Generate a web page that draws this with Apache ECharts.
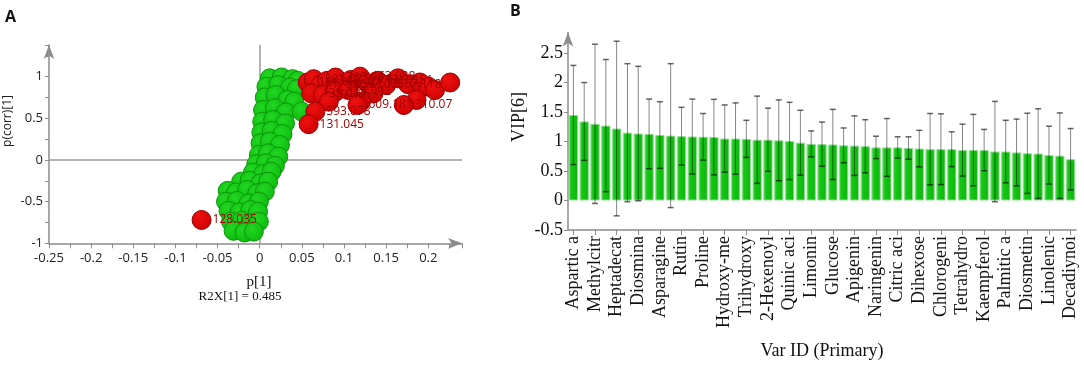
<!DOCTYPE html>
<html>
<head>
<meta charset="utf-8">
<script src="https://cdn.jsdelivr.net/npm/echarts@6/dist/echarts.min.js"></script>
<style>
    html, body { margin: 0; padding: 0; background: #fff; }
    #main { width: 1084px; height: 365px; }
</style>
</head>
<body>
<div id="main"></div>
<script>
// panel A: S-plot points [p[1], p(corr)[1]]
var greenPoints = [
    [0.012, 0.98], [0.026, 0.99], [0.039, 0.97], [0.045, 0.95],
    [0.008, 0.88], [0.022, 0.90], [0.036, 0.87], [0.044, 0.85],
    [0.006, 0.75], [0.019, 0.78], [0.033, 0.72], [0.041, 0.70],
    [0.004, 0.60], [0.018, 0.62], [0.031, 0.57], [0.050, 0.58],
    [0.003, 0.46], [0.016, 0.48], [0.030, 0.44],
    [0.002, 0.33], [0.014, 0.35], [0.027, 0.31],
    [0.001, 0.20], [0.012, 0.22], [0.024, 0.18],
    [-0.001, 0.06], [0.010, 0.08], [0.022, 0.04],
    [-0.004, -0.05], [0.007, -0.04], [0.018, -0.07],
    [-0.008, -0.15], [0.004, -0.17], [0.014, -0.14],
    [-0.022, -0.26], [-0.012, -0.25], [0.001, -0.28], [0.010, -0.26],
    [-0.038, -0.37], [-0.028, -0.39], [-0.015, -0.36], [-0.003, -0.40], [0.006, -0.38],
    [-0.040, -0.50], [-0.027, -0.49], [-0.013, -0.52], [-0.001, -0.50],
    [-0.037, -0.61], [-0.024, -0.63], [-0.011, -0.60], [-0.002, -0.62],
    [-0.034, -0.74], [-0.021, -0.73], [-0.010, -0.76], [-0.001, -0.74],
    [-0.031, -0.85], [-0.018, -0.87], [-0.007, -0.86]
];
var redPoints = [
    [0.057, 0.93], [0.064, 0.97], [0.072, 0.90], [0.080, 0.95], [0.090, 0.99],
    [0.098, 0.91], [0.108, 0.96], [0.119, 1.00], [0.128, 0.92], [0.140, 0.95],
    [0.150, 0.90], [0.164, 0.98], [0.176, 0.91], [0.190, 0.93], [0.200, 0.88],
    [0.208, 0.84], [0.226, 0.93],
    [0.061, 0.80], [0.075, 0.78], [0.090, 0.82], [0.105, 0.84], [0.135, 0.80],
    [0.082, 0.70], [0.120, 0.70], [0.186, 0.72],
    [0.066, 0.58], [0.058, 0.43], [0.116, 0.66], [0.171, 0.66],
    [-0.069, -0.72]
];
var redLabels = [
    '163.061', '301.071', '179.056', '447.093', '285.04',
    '355.102', '191.02', '463.088', '577.156', '593.151',
    '367.118', '', '', '', '',
    '', '',
    '133.014', '191.055', '325.092', '', '',
    '', '', '',
    '593.078', '131.045', '609.181', '310.07',
    '128.035'
];

// panel B: VIP values and their +/- error
var vipLabels = ['Aspartic a', 'Methylcitr', 'Heptadecat', 'Diosmina', 'Asparagine', 'Rutin',
    'Proline', 'Hydroxy-me', 'Trihydroxy', '2-Hexenoyl', 'Quinic aci', 'Limonin', 'Glucose',
    'Apigenin', 'Naringenin', 'Citric aci', 'Dihexose', 'Chlorogeni', 'Tetrahydro',
    'Kaempferol', 'Palmitic a', 'Diosmetin', 'Linolenic', 'Decadiynoi'];
var vipValues = [1.45, 1.34, 1.30, 1.27, 1.22, 1.15, 1.135, 1.13, 1.11, 1.10, 1.09, 1.085,
    1.08, 1.075, 1.05, 1.05, 1.045, 1.03, 1.03, 1.02, 1.01, 0.98, 0.96, 0.955, 0.95, 0.935,
    0.93, 0.92, 0.90, 0.90, 0.90, 0.89, 0.88, 0.87, 0.87, 0.87, 0.855, 0.855, 0.855, 0.83,
    0.83, 0.815, 0.80, 0.795, 0.77, 0.76, 0.70];
var vipErr = [0.84, 0.66, 1.35, 1.12, 1.48, 1.17, 1.14, 0.59, 0.565, 1.22, 0.49, 0.635,
    0.395, 0.64, 0.57, 0.605, 0.315, 0.74, 0.535, 0.685, 0.655, 0.55, 0.22, 0.375, 0.595,
    0.295, 0.505, 0.45, 0.19, 0.49, 0.18, 0.19, 0.31, 0.605, 0.60, 0.295, 0.44, 0.605, 0.35,
    0.85, 0.53, 0.565, 0.68, 0.76, 0.49, 0.725, 0.52];

var myChart = echarts.init(document.getElementById('main'), null, { renderer: 'canvas' });

// only every second bar carries a name on the axis
var categories = vipValues.map(function(v, i) {
    return i % 2 === 0 ? vipLabels[i / 2] : '';
});
var errData = vipValues.map(function(v, i) {
    return [i, v - vipErr[i], v + vipErr[i]];
});
var redData = redPoints.map(function(p, i) {
    return { value: p, name: redLabels[i] };
});

var axisGrey = '#8c8c8c';
var sans = '"Open Sans", "Noto Sans", sans-serif';
var serif = '"Liberation Serif", "DejaVu Serif", serif';

var option = {
    animation: false,
    backgroundColor: '#fff',
    grid: [
        { left: 49, top: 45, width: 413, height: 198.3 },
        { left: 568, top: 32.4, width: 508, height: 199.7 }
    ],
    xAxis: [{
        gridIndex: 0,
        type: 'value',
        min: -0.25,
        max: 0.24,
        interval: 0.05,
        axisLine: {
            show: true, onZero: false,
            symbol: ['none', 'arrow'], symbolSize: [8, 14],
            lineStyle: { color: axisGrey, width: 1.5 }
        },
        axisTick: { show: true, length: 5, lineStyle: { color: axisGrey } },
        minorTick: { show: true, splitNumber: 2, length: 5, lineStyle: { color: axisGrey } },
        axisLabel: {
            fontFamily: sans, fontSize: 13, color: '#222', margin: 8,
            showMaxLabel: false,
            formatter: function(v) { return +v.toFixed(2) + ''; }
        },
        splitLine: { show: false }
    }, {
        gridIndex: 1,
        type: 'category',
        data: categories,
        axisLine: { show: true, onZero: false, lineStyle: { color: axisGrey, width: 1.5 } },
        axisTick: { show: true, interval: 1, alignWithLabel: true, length: 5, lineStyle: { color: axisGrey } },
        axisLabel: { interval: 1, rotate: 90, fontFamily: serif, fontSize: 18, color: '#111', margin: 6 },
        name: 'Var ID (Primary)',
        nameLocation: 'middle',
        nameGap: 112,
        nameTextStyle: { fontFamily: serif, fontSize: 18, color: '#111' }
    }],
    yAxis: [{
        gridIndex: 0,
        type: 'value',
        min: -1,
        max: 1.38,
        interval: 0.5,
        axisLine: {
            show: true, onZero: false,
            symbol: ['none', 'arrow'], symbolSize: [8, 14],
            lineStyle: { color: axisGrey, width: 1.5 }
        },
        axisTick: { show: true, length: 4, lineStyle: { color: axisGrey } },
        minorTick: { show: true, splitNumber: 2, length: 4, lineStyle: { color: axisGrey } },
        axisLabel: { fontFamily: sans, fontSize: 13, color: '#222', margin: 6, showMaxLabel: false },
        splitLine: { show: false }
    }, {
        gridIndex: 1,
        type: 'value',
        min: -0.5,
        max: 2.85,
        interval: 0.5,
        axisLine: {
            show: true, onZero: false,
            symbol: ['none', 'arrow'], symbolSize: [8, 14],
            lineStyle: { color: axisGrey, width: 1.5 }
        },
        axisTick: { show: true, length: 4, lineStyle: { color: axisGrey } },
        axisLabel: { fontFamily: serif, fontSize: 18, color: '#111', margin: 5, showMaxLabel: false },
        splitLine: { show: false }
    }],
    series: [{
        // zero lines of the S-plot, drawn under the points
        type: 'line',
        xAxisIndex: 0,
        yAxisIndex: 0,
        data: [],
        z: 1,
        markLine: {
            silent: true,
            symbol: 'none',
            z: 1,
            animation: false,
            label: { show: false },
            lineStyle: { color: '#9a9a9a', width: 1.5, type: 'solid' },
            data: [
                [{ coord: [-0.25, 0] }, { coord: [0.24, 0] }],
                [{ coord: [0, -1] }, { coord: [0, 1.38] }]
            ]
        }
    }, {
        // green variables of the S-plot
        type: 'scatter',
        xAxisIndex: 0,
        yAxisIndex: 0,
        symbolSize: 19,
        data: greenPoints,
        itemStyle: {
            color: {
                type: 'radial', x: 0.4, y: 0.35, r: 0.7,
                colorStops: [{ offset: 0, color: '#22d622' }, { offset: 1, color: '#0cb90c' }]
            },
            borderColor: '#0a960a',
            borderWidth: 1,
            opacity: 1
        },
        z: 3
    }, {
        // red variables with their labels
        type: 'scatter',
        xAxisIndex: 0,
        yAxisIndex: 0,
        symbolSize: 19,
        data: redData,
        itemStyle: {
            color: {
                type: 'radial', x: 0.4, y: 0.35, r: 0.7,
                colorStops: [{ offset: 0, color: '#ee1111' }, { offset: 1, color: '#cc0000' }]
            },
            borderColor: '#9a0000',
            borderWidth: 1,
            opacity: 1
        },
        label: {
            show: true,
            position: 'right',
            distance: 1,
            formatter: '{b}',
            fontFamily: sans,
            fontSize: 12,
            color: '#a80000'
        },
        z: 4
    }, {
        type: 'bar',
        xAxisIndex: 1,
        yAxisIndex: 1,
        data: vipValues,
        barWidth: '86%',
        itemStyle: {
            color: {
                type: 'linear', x: 0, y: 0, x2: 1, y2: 0,
                colorStops: [
                    { offset: 0, color: '#45dd45' },
                    { offset: 0.3, color: '#13c613' },
                    { offset: 1, color: '#0db50d' }
                ]
            },
            borderColor: '#8fdd8f',
            borderWidth: 1
        }
    }, {
        // error bars
        type: 'custom',
        xAxisIndex: 1,
        yAxisIndex: 1,
        data: errData,
        encode: { x: 0, y: [1, 2] },
        z: 5,
        renderItem: function(params, api) {
            var lo = api.coord([api.value(0), api.value(1)]);
            var hi = api.coord([api.value(0), api.value(2)]);
            var w = 3;
            var capStyle = { stroke: 'rgba(0,0,0,0.6)', lineWidth: 1.5 };
            return {
                type: 'group',
                children: [{
                    type: 'line',
                    shape: { x1: hi[0], y1: hi[1], x2: lo[0], y2: lo[1] },
                    style: { stroke: 'rgba(0,0,0,0.48)', lineWidth: 1 }
                }, {
                    type: 'line',
                    shape: { x1: hi[0] - w, y1: hi[1], x2: hi[0] + w, y2: hi[1] },
                    style: capStyle
                }, {
                    type: 'line',
                    shape: { x1: lo[0] - w, y1: lo[1], x2: lo[0] + w, y2: lo[1] },
                    style: capStyle
                }]
            };
        }
    }],
    graphic: [{
        type: 'text', x: 5, y: 9,
        style: { text: 'A', font: 'bold 16px ' + sans, fill: '#111' }
    }, {
        type: 'text', x: 510, y: 3,
        style: { text: 'B', font: 'bold 16px ' + sans, fill: '#111' }
    }, {
        type: 'text', x: 8, y: 121, rotation: Math.PI / 2,
        style: { text: 'p(corr)[1]', font: '12px ' + sans, fill: '#222', textAlign: 'center', textVerticalAlign: 'middle' }
    }, {
        type: 'text', x: 259, y: 282,
        style: { text: 'p[1]', font: '15px ' + serif, fill: '#111', textAlign: 'center', textVerticalAlign: 'middle' }
    }, {
        type: 'text', x: 240, y: 297,
        style: { text: 'R2X[1] = 0.485', font: '13px ' + serif, fill: '#111', textAlign: 'center', textVerticalAlign: 'middle' }
    }, {
        type: 'text', x: 519, y: 117, rotation: Math.PI / 2,
        style: { text: 'VIP[6]', font: '18px ' + serif, fill: '#111', textAlign: 'center', textVerticalAlign: 'middle' }
    }]
};

myChart.setOption(option);
</script>
</body>
</html>
